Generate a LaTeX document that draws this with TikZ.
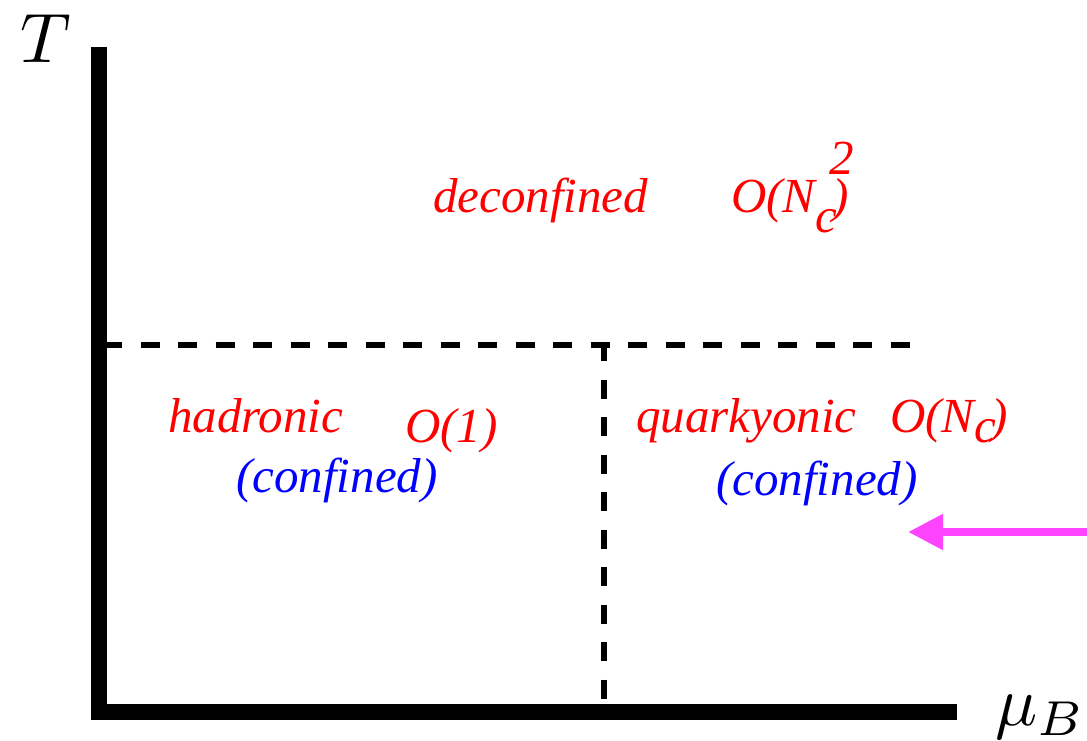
\documentclass[tikz,border=0pt]{standalone}
\usepackage{graphicx}
\usepackage{fontspec}
\setmainfont{Liberation Serif}
\usetikzlibrary{arrows.meta}
\definecolor{lblred}{RGB}{255,0,0}
\definecolor{lblblue}{RGB}{0,0,255}
\definecolor{arrmag}{RGB}{255,68,255}
\begin{document}
\begin{tikzpicture}[x=1pt,y=-1pt,
  axis/.style={line width=16pt, line join=miter, line cap=butt},
  border/.style={line width=6pt, dash pattern=on 19pt off 18.5pt},
  lbl/.style={anchor=base west, inner sep=0pt, font=\fontsize{49}{58}\selectfont\itshape},
  redlbl/.style={lbl, text=lblred},
  bluelbl/.style={lbl, text=lblblue},
  axlbl/.style={anchor=base west, inner sep=0pt},
  pointer/.style={arrmag, line width=8pt, -{Triangle[length=35pt,width=34pt]}}
]
\useasboundingbox (0,0) rectangle (1087,741);
% axes
\coordinate (ytop) at (99,47);
\coordinate (origin) at (99,712);
\coordinate (xend) at (957,712);
\draw[axis] (ytop) -- (origin) -- (xend);
% phase borders
\coordinate (hstart) at (103,345);
\coordinate (hend) at (910,345);
\coordinate (vtop) at (604,342);
\coordinate (vbot) at (604,704);
\draw[border] (hstart) -- (hend);
\draw[border] (vtop) -- (vbot);
% axis labels
\node[axlbl] (T) at (20,63) {\scalebox{7}{$T$}};
\node[axlbl] (muB) at (995,725) {\scalebox{7}{$\mu_B$}};
% region labels
\node[redlbl] (deconf) at (433,212) {deconfined};
\node[redlbl] (onc2) at (731,212) {O(N\raisebox{-20pt}{c}\kern-8pt\rlap{\raisebox{38pt}{2}}\kern3pt)};
\node[redlbl] (hadr) at (168,432) {hadronic};
\node[redlbl] (o1) at (405,442) {O(1)};
\node[bluelbl] (conf1) at (236,492) {(confined)};
\node[redlbl] (quark) at (636,432) {quarkyonic};
\node[redlbl] (onc) at (890,432) {O(N\raisebox{-10pt}{c}\kern-5pt)};
\node[bluelbl] (conf2) at (716,495) {(confined)};
% pointer arrow
\coordinate (arrstart) at (1090,532);
\coordinate (arrtip) at (908,532);
\draw[pointer] (arrstart) -- (arrtip);
\end{tikzpicture}
\end{document}
